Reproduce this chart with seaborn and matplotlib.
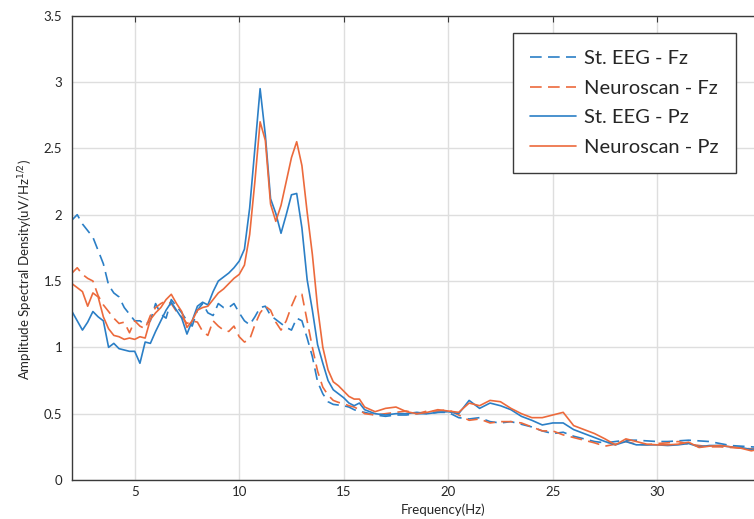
import numpy as np
import pandas as pd
import matplotlib
matplotlib.use('Agg')
import matplotlib.pyplot as plt
import seaborn as sns

# frequency grid (Hz): fine steps below 16 Hz, coarser above
freqs = list(np.arange(2.0, 16.01, 0.25)) + list(np.arange(16.5, 35.01, 0.5))

st_eeg_fz = [
    1.96, 2.00, 1.93, 1.88, 1.83, 1.73, 1.63, 1.47, 1.41, 1.38, 1.30, 1.25,
    1.20, 1.20, 1.17, 1.20, 1.33, 1.25, 1.22, 1.36, 1.31, 1.26, 1.20, 1.16,
    1.28, 1.33, 1.26, 1.24, 1.33, 1.30, 1.30, 1.33, 1.26, 1.20, 1.17, 1.23,
    1.30, 1.31, 1.24, 1.21, 1.18, 1.15, 1.13, 1.22, 1.20, 1.07, 0.93, 0.74,
    0.65, 0.59, 0.57, 0.565, 0.56, 0.55, 0.53, 0.515, 0.51,
    0.49, 0.48, 0.49, 0.49, 0.50, 0.50, 0.51, 0.51, 0.47, 0.46, 0.47, 0.44,
    0.43, 0.44, 0.42, 0.40, 0.37, 0.35, 0.36, 0.33, 0.31, 0.29, 0.28, 0.29,
    0.30, 0.30, 0.295, 0.29, 0.29, 0.295, 0.30, 0.295, 0.29, 0.275, 0.26,
    0.255, 0.25, 0.245,
]
neuroscan_fz = [
    1.56, 1.60, 1.55, 1.52, 1.50, 1.39, 1.32, 1.27, 1.22, 1.18, 1.19, 1.11,
    1.20, 1.16, 1.14, 1.24, 1.30, 1.33, 1.35, 1.33, 1.27, 1.23, 1.18, 1.20,
    1.19, 1.12, 1.09, 1.20, 1.16, 1.13, 1.12, 1.16, 1.08, 1.04, 1.06, 1.17,
    1.26, 1.31, 1.28, 1.19, 1.13, 1.20, 1.31, 1.40, 1.40, 1.20, 1.00, 0.82,
    0.70, 0.64, 0.60, 0.585, 0.575, 0.56, 0.55, 0.53, 0.50,
    0.49, 0.50, 0.51, 0.52, 0.50, 0.52, 0.52, 0.53, 0.49, 0.45, 0.46, 0.43,
    0.44, 0.44, 0.43, 0.40, 0.37, 0.37, 0.34, 0.32, 0.30, 0.28, 0.255, 0.27,
    0.29, 0.27, 0.265, 0.275, 0.28, 0.29, 0.27, 0.26, 0.25, 0.25, 0.245,
    0.24, 0.235, 0.23,
]
st_eeg_pz = [
    1.27, 1.20, 1.13, 1.19, 1.27, 1.23, 1.20, 1.00, 1.03, 0.99, 0.98, 0.97,
    0.97, 0.88, 1.04, 1.03, 1.12, 1.20, 1.28, 1.34, 1.28, 1.22, 1.10, 1.20,
    1.31, 1.34, 1.32, 1.42, 1.50, 1.53, 1.56, 1.60, 1.65, 1.74, 2.05, 2.50,
    2.95, 2.60, 2.12, 2.01, 1.86, 2.00, 2.15, 2.16, 1.90, 1.51, 1.28, 1.02,
    0.88, 0.75, 0.68, 0.65, 0.62, 0.58, 0.56, 0.58, 0.53,
    0.50, 0.49, 0.50, 0.50, 0.51, 0.50, 0.51, 0.515, 0.50, 0.60, 0.54, 0.58,
    0.56, 0.53, 0.48, 0.45, 0.415, 0.43, 0.43, 0.38, 0.35, 0.32, 0.29, 0.265,
    0.29, 0.265, 0.265, 0.265, 0.26, 0.265, 0.275, 0.25, 0.26, 0.26, 0.25,
    0.245, 0.23, 0.24,
]
neuroscan_pz = [
    1.48, 1.45, 1.42, 1.31, 1.41, 1.38, 1.23, 1.14, 1.09, 1.08, 1.06, 1.07,
    1.06, 1.08, 1.07, 1.21, 1.26, 1.30, 1.36, 1.40, 1.33, 1.27, 1.15, 1.20,
    1.28, 1.30, 1.31, 1.36, 1.41, 1.44, 1.48, 1.52, 1.55, 1.62, 1.85, 2.25,
    2.70, 2.56, 2.08, 1.95, 2.07, 2.25, 2.43, 2.55, 2.37, 2.02, 1.70, 1.30,
    1.00, 0.83, 0.74, 0.71, 0.67, 0.63, 0.61, 0.61, 0.55,
    0.515, 0.54, 0.55, 0.515, 0.50, 0.51, 0.53, 0.52, 0.51, 0.58, 0.56, 0.60,
    0.59, 0.54, 0.50, 0.47, 0.47, 0.49, 0.51, 0.41, 0.38, 0.35, 0.31, 0.265,
    0.31, 0.29, 0.27, 0.265, 0.265, 0.27, 0.285, 0.245, 0.255, 0.26, 0.25,
    0.24, 0.22, 0.235,
]

series_names = ['St. EEG - Fz', 'Neuroscan - Fz', 'St. EEG - Pz', 'Neuroscan - Pz']
series_values = [st_eeg_fz, neuroscan_fz, st_eeg_pz, neuroscan_pz]

y_ticks = [0, 0.5, 1, 1.5, 2, 2.5, 3, 3.5]
y_tick_labels = ['0', '0.5', '1', '1.5', '2', '2.5', '3', '3.5']
x_ticks = [5, 10, 15, 20, 25, 30, 35]

BLUE = '#2b7fc6'
ORANGE = '#ec6a3c'
palette = {'St. EEG - Fz': BLUE, 'Neuroscan - Fz': ORANGE,
           'St. EEG - Pz': BLUE, 'Neuroscan - Pz': ORANGE}
dashes = {'St. EEG - Fz': (7, 3.8), 'Neuroscan - Fz': (7, 3.8),
          'St. EEG - Pz': '', 'Neuroscan - Pz': ''}

# long-form table for seaborn
df = pd.concat([
    pd.DataFrame({'freq': freqs, 'asd': vals, 'series': name})
    for name, vals in zip(series_names, series_values)
], ignore_index=True)

sns.set_style('white')
plt.rcParams['font.family'] = ['Lato', 'DejaVu Sans']

fig = plt.figure(figsize=(7.54, 5.19), dpi=100)
# axes extends past the right edge, like the cropped original
ax = fig.add_axes([72 / 754, 39 / 519, 742 / 754, 464.3 / 519])

sns.lineplot(data=df, x='freq', y='asd', hue='series', style='series',
             hue_order=series_names, style_order=series_names,
             palette=palette, dashes=dashes, linewidth=1.2,
             estimator=None, sort=False, ax=ax)

ax.set_xlim(2, 37.5)
ax.set_ylim(0, 3.5)
ax.set_xticks(x_ticks)
ax.set_yticks(y_ticks)
ax.set_yticklabels(y_tick_labels)
ax.grid(True, color='#dedede', linewidth=1.0)
ax.set_axisbelow(True)

for s in ax.spines.values():
    s.set_color('#3a3a3a')
    s.set_linewidth(1.0)
ax.tick_params(direction='in', length=4, width=0.8, color='#3a3a3a',
               top=True, right=True, labelsize=9.5, labelcolor='#262626')
ax.tick_params(axis='y', pad=7)
ax.tick_params(axis='x', pad=4)

ax.set_xlabel('Frequency(Hz)', fontsize=9.5, color='#262626')
ax.set_ylabel(r'Amplitude Spectral Density(uV/Hz$^{1/2}$)', fontsize=9.5,
              color='#262626')
ax.yaxis.set_label_coords(-0.05, 0.453)

handles, labels = ax.get_legend_handles_labels()
leg = ax.legend(handles, labels, loc='upper left',
                bbox_to_anchor=(513 / 754, 1 - 33 / 519),
                bbox_transform=fig.transFigure, borderaxespad=0,
                fontsize=14.5, frameon=True, fancybox=False, framealpha=1,
                edgecolor='#3a3a3a', handlelength=2.3, handletextpad=0.4,
                labelspacing=0.62, borderpad=0.85)
leg.get_frame().set_linewidth(1.0)

fig.savefig('out.png', dpi=100)
